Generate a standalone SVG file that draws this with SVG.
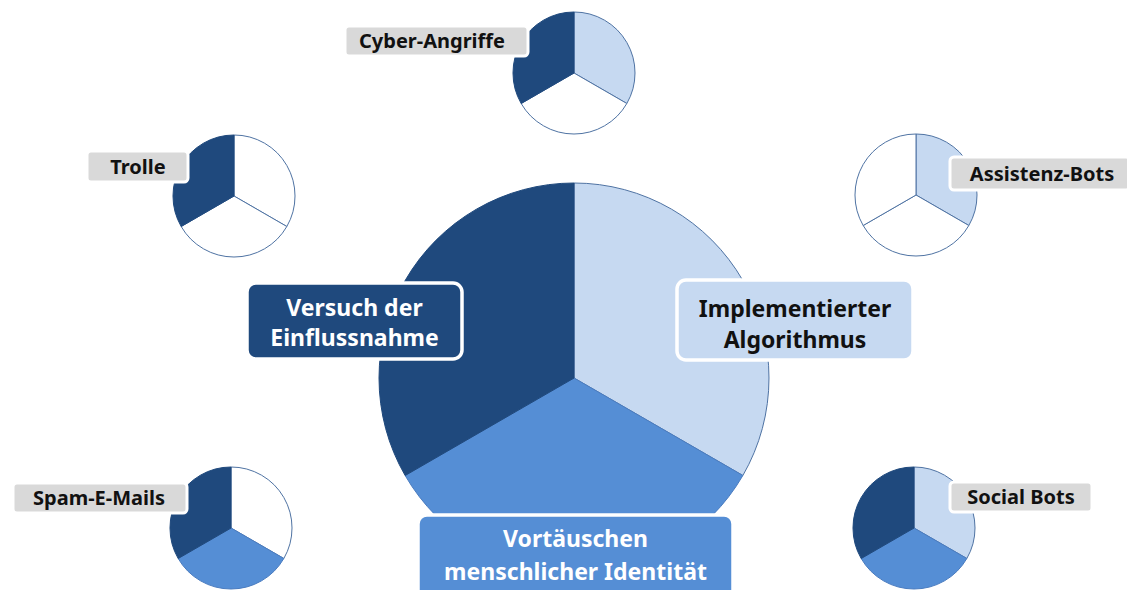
<svg xmlns="http://www.w3.org/2000/svg" width="1127" height="590" viewBox="0 0 1127 590">
<style>
.dark{fill:#1f497d;stroke:#1f497d;stroke-width:1}
.light{fill:#c6d9f1;stroke:#4f73a3;stroke-width:1}
.med{fill:#558ed5;stroke:#4a7cc0;stroke-width:1}
.white{fill:#ffffff;stroke:#4f73a3;stroke-width:1}
.tag{fill:#d9d9d9;stroke:#ffffff;stroke-width:3}
.tagtext{font-family:"Noto Sans","Open Sans",sans-serif;font-weight:700;font-size:20px;fill:#111111;text-anchor:middle}
.big{font-family:"Noto Sans","Open Sans",sans-serif;font-weight:700;font-size:23px;text-anchor:middle}
.box{stroke:#ffffff;stroke-width:3.5}
</style>
<rect width="1127" height="590" fill="#ffffff"/>
<g id="main-pie">
<path class="light" d="M574,378 L574,183 A195,195 0 0 1 742.87,475.5 Z"/>
<path class="med" d="M574,378 L742.87,475.5 A195,195 0 0 1 405.13,475.5 Z"/>
<path class="dark" d="M574,378 L405.13,475.5 A195,195 0 0 1 574,183 Z"/>
</g>
<g id="label-versuch">
<rect class="box" x="247" y="283" width="215" height="76" rx="9" fill="#1f497d"/>
<text class="big" x="354.5" y="316" fill="#ffffff">Versuch der</text>
<text class="big" x="354.5" y="346" fill="#ffffff">Einflussnahme</text>
</g>
<g id="label-implementiert">
<rect class="box" x="677" y="280" width="236" height="80" rx="9" fill="#c6d9f1"/>
<text class="big" x="795" y="317" fill="#111111">Implementierter</text>
<text class="big" x="795" y="348" fill="#111111">Algorithmus</text>
</g>
<g id="label-vortaeuschen">
<rect class="box" x="418" y="515" width="315" height="90" rx="9" fill="#558ed5"/>
<text class="big" x="575.5" y="547" fill="#ffffff">Vortäuschen</text>
<text class="big" x="575.5" y="580" fill="#ffffff">menschlicher Identität</text>
</g>
<g id="cyber-angriffe">
<path class="light" d="M574,73 L574,12 A61,61 0 0 1 626.83,103.5 Z"/>
<path class="white" d="M574,73 L626.83,103.5 A61,61 0 0 1 521.17,103.5 Z"/>
<path class="dark" d="M574,73 L521.17,103.5 A61,61 0 0 1 574,12 Z"/>
<rect class="tag" x="345" y="26" width="183" height="30" rx="4"/>
<text class="tagtext" x="432" y="48">Cyber-Angriffe</text>
</g>
<g id="trolle">
<path class="white" d="M234,196 L234,135 A61,61 0 0 1 286.83,226.5 Z"/>
<path class="white" d="M234,196 L286.83,226.5 A61,61 0 0 1 181.17,226.5 Z"/>
<path class="dark" d="M234,196 L181.17,226.5 A61,61 0 0 1 234,135 Z"/>
<rect class="tag" x="87" y="151" width="101" height="31" rx="4"/>
<text class="tagtext" x="138" y="174">Trolle</text>
</g>
<g id="assistenz-bots">
<path class="light" d="M916,195 L916,134 A61,61 0 0 1 968.83,225.5 Z"/>
<path class="white" d="M916,195 L968.83,225.5 A61,61 0 0 1 863.17,225.5 Z"/>
<path class="white" d="M916,195 L863.17,225.5 A61,61 0 0 1 916,134 Z"/>
<rect class="tag" x="950" y="157" width="180" height="33" rx="4"/>
<text class="tagtext" x="1042" y="181">Assistenz-Bots</text>
</g>
<g id="spam-e-mails">
<path class="white" d="M231,528 L231,467 A61,61 0 0 1 283.83,558.5 Z"/>
<path class="med" d="M231,528 L283.83,558.5 A61,61 0 0 1 178.17,558.5 Z"/>
<path class="dark" d="M231,528 L178.17,558.5 A61,61 0 0 1 231,467 Z"/>
<rect class="tag" x="13" y="483" width="174" height="30" rx="4"/>
<text class="tagtext" x="99" y="505">Spam-E-Mails</text>
</g>
<g id="social-bots">
<path class="light" d="M914,528 L914,467 A61,61 0 0 1 966.83,558.5 Z"/>
<path class="med" d="M914,528 L966.83,558.5 A61,61 0 0 1 861.17,558.5 Z"/>
<path class="dark" d="M914,528 L861.17,558.5 A61,61 0 0 1 914,467 Z"/>
<rect class="tag" x="950" y="482" width="142" height="30" rx="4"/>
<text class="tagtext" x="1021" y="504">Social Bots</text>
</g>
<g id="connectors"></g>
</svg>
